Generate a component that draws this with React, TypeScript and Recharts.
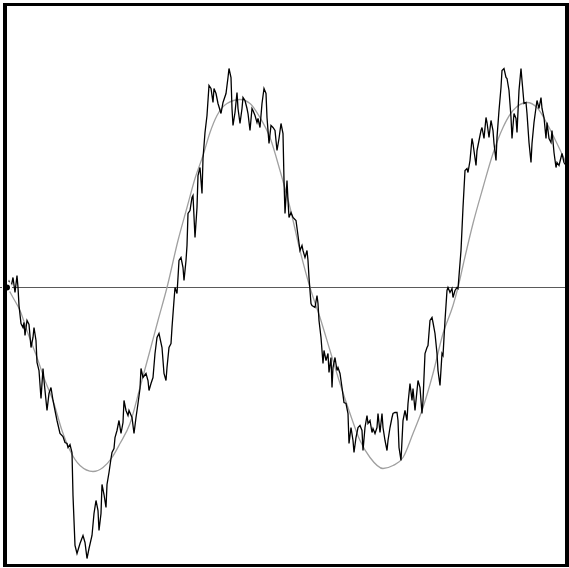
import { LineChart, Line, XAxis, YAxis, ReferenceLine } from "recharts";

// noisy signal: sample position and value
const NOISY_T = [
  0, 2, 4, 6, 8, 10, 11, 12, 14, 16, 17, 18, 20, 22, 24, 26, 27, 29, 30, 32,
  34, 36, 37, 40, 42, 44, 46, 48, 50, 53, 56, 58, 60, 61, 63, 65, 66, 68, 70, 73,
  76, 78, 80, 82, 85, 87, 89, 91, 92, 94, 95, 97, 99, 100, 102, 104, 105, 107, 108, 110,
  112, 114, 116, 117, 119, 121, 122, 125, 127, 129, 131, 133, 134, 136, 139, 141, 142, 144, 146, 148,
  150, 152, 155, 157, 159, 160, 162, 164, 165, 167, 168, 170, 171, 172, 174, 176, 177, 179, 180, 181,
  183, 185, 186, 188, 190, 191, 193, 195, 196, 198, 200, 202, 204, 206, 207, 209, 211, 214, 216, 219,
  221, 222, 224, 225, 226, 228, 230, 231, 233, 235, 236, 238, 240, 241, 243, 245, 246, 248, 250, 251,
  253, 255, 257, 259, 260, 262, 264, 266, 268, 270, 272, 274, 276, 277, 278, 280, 281, 282, 284, 286,
  289, 291, 293, 295, 296, 298, 300, 301, 302, 304, 305, 308, 310, 311, 312, 314, 316, 317, 319, 321,
  322, 324, 325, 326, 328, 330, 331, 333, 335, 337, 339, 341, 342, 344, 346, 347, 349, 351, 353, 355,
  356, 358, 360, 361, 363, 365, 366, 368, 370, 371, 373, 375, 376, 378, 380, 381, 383, 385, 386, 388,
  390, 391, 392, 394, 395, 396, 398, 400, 401, 403, 405, 406, 408, 410, 411, 413, 415, 416, 418, 420,
  421, 423, 425, 426, 428, 430, 431, 433, 435, 436, 438, 440, 441, 443, 445, 446, 448, 450, 451, 454,
  456, 458, 460, 461, 463, 465, 466, 469, 470, 472, 474, 475, 477, 479, 480, 482, 484, 486, 487, 489,
  490, 492, 494, 495, 497, 499, 500, 502, 504, 505, 507, 509, 510, 512, 514, 515, 517, 519, 520, 522,
  524, 525, 527, 529, 530, 532, 534, 535, 537, 539, 540, 542, 544, 545, 547, 549, 550, 552, 554, 555,
  557, 559,
];
const NOISY_V = [
  0, 6, 0, 10, -5, 12, 0, -18, -36, -40, -35, -48, -33, -37, -60, -50, -40, -53, -75, -83,
  -111, -81, -93, -123, -106, -100, -113, -123, -133, -146, -149, -155, -156, -160, -157, -165, -208, -258, -266, -256,
  -248, -255, -271, -261, -248, -226, -213, -223, -243, -226, -197, -207, -220, -197, -185, -171, -165, -161, -150, -143,
  -133, -146, -135, -113, -123, -128, -123, -130, -146, -130, -116, -101, -81, -90, -86, -93, -103, -96, -90, -66,
  -50, -46, -60, -86, -93, -80, -60, -56, -40, -13, 0, -6, 10, 27, 30, 20, 7, 27, 42, 74,
  77, 90, 92, 50, 80, 112, 120, 94, 129, 155, 172, 202, 199, 185, 199, 194, 184, 174, 185, 194,
  210, 219, 210, 179, 162, 175, 195, 179, 164, 179, 190, 187, 179, 174, 157, 179, 177, 172, 165, 169,
  160, 184, 199, 194, 170, 144, 162, 160, 157, 137, 149, 164, 154, 107, 74, 107, 87, 70, 75, 70,
  67, 52, 37, 42, 37, 30, 37, 27, 10, -16, -18, -20, -8, -16, -33, -50, -76, -63, -73, -66,
  -85, -70, -100, -80, -70, -83, -80, -86, -100, -115, -116, -126, -156, -140, -153, -165, -150, -140, -138, -143,
  -163, -140, -128, -136, -133, -145, -141, -146, -140, -126, -145, -126, -140, -153, -163, -153, -140, -130, -126, -125,
  -125, -133, -160, -173, -153, -133, -123, -133, -116, -96, -113, -101, -123, -103, -93, -100, -126, -113, -66, -60,
  -58, -33, -30, -35, -46, -66, -83, -98, -66, -68, -33, -3, 0, -5, -1, -10, -3, 0, -1, 37,
  80, 117, 119, 115, 127, 149, 144, 122, 137, 147, 157, 160, 149, 170, 165, 150, 167, 157, 144, 127,
  150, 177, 200, 217, 219, 210, 209, 197, 170, 149, 174, 169, 155, 197, 219, 207, 184, 185, 174, 145,
  125, 144, 165, 180, 187, 179, 190, 179, 170, 149, 165, 149, 145, 157, 135, 120, 125, 122, 130, 134,
  125, 122,
];

// smooth reference wave
const WAVE_T = [
  0, 6, 13, 21, 30, 38, 46, 55, 63, 73, 86, 96, 105, 113, 123, 133, 143, 151, 160, 171,
  180, 188, 196, 203, 210, 220, 233, 243, 253, 263, 273, 283, 293, 303, 313, 323, 333, 343, 353, 363,
  376, 386, 396, 406, 416, 426, 436, 446, 451, 456, 466, 476, 486, 496, 506, 520, 530, 540, 550, 559,
];
const WAVE_V = [
  1, -10, -23, -46, -70, -93, -113, -143, -163, -178, -184, -180, -170, -156, -136, -100, -63, -33, 0, 47,
  80, 109, 132, 155, 172, 184, 188, 184, 170, 150, 117, 80, 37, 0, -30, -63, -96, -126, -153, -170,
  -181, -178, -170, -146, -120, -86, -46, -18, 0, 22, 64, 100, 134, 160, 177, 185, 180, 164, 144, 125,
];

const noisyData = NOISY_T.map((t, i) => ({ t, v: NOISY_V[i] }));
const waveData = WAVE_T.map((t, i) => ({ t, v: WAVE_V[i] }));

export default function App() {
  return (
    <div style={{ position: "absolute", left: 0, top: 0, width: 569, height: 568, background: "#fff" }}>
      <LineChart width={569} height={568} margin={{ top: 0, right: 0, bottom: 0, left: 0 }}>
        <XAxis type="number" dataKey="t" domain={[-7, 562]} hide allowDataOverflow />
        <YAxis type="number" domain={[-280.5, 287.5]} hide allowDataOverflow />
        <ReferenceLine y={0} stroke="#5a5a5a" strokeWidth={1} />
        <Line
          data={waveData} dataKey="v" type="monotone"
          stroke="#a0a0a0" strokeWidth={1.3} dot={false} isAnimationActive={false}
        />
        <Line
          data={noisyData} dataKey="v" type="linear"
          stroke="#000" strokeWidth={1.3} dot={false} isAnimationActive={false}
        />
      </LineChart>
      <div style={{
        position: "absolute", left: 3, top: 3, width: 566, height: 564,
        boxSizing: "border-box",
        borderStyle: "solid", borderColor: "#000",
        borderWidth: "3px 4px 3px 4px",
        pointerEvents: "none",
      }} />
    </div>
  );
}
